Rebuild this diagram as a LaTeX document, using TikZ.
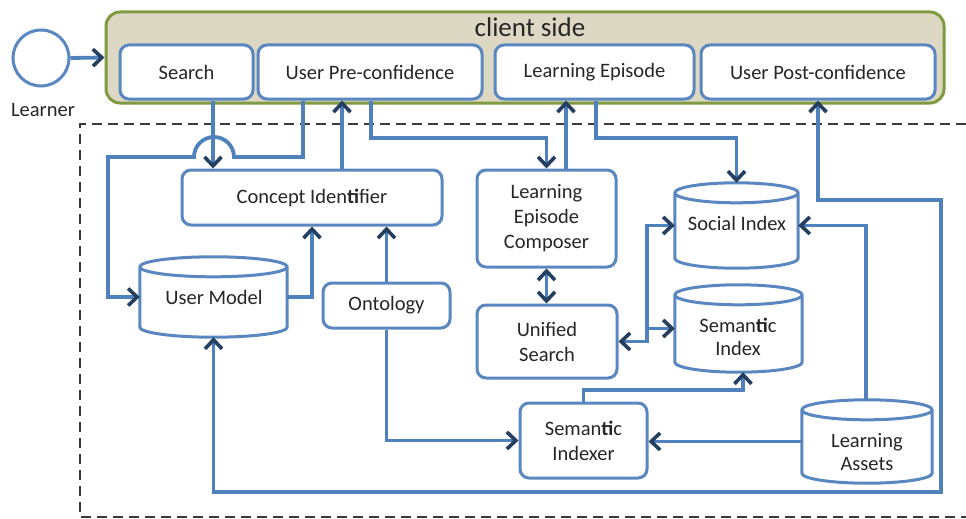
\documentclass[tikz,border=0pt]{standalone}
\usepackage{fontspec}
\setmainfont{Carlito}
\usetikzlibrary{arrows.meta,calc}
\definecolor{lineblue}{HTML}{4F81BD}
\definecolor{boxblue}{HTML}{5A87C0}
\definecolor{navy}{HTML}{243F60}
\definecolor{olivegreen}{HTML}{7F9A41}
\definecolor{tanfill}{HTML}{DDD8C4}
\definecolor{txtgray}{HTML}{262626}
\definecolor{dashgray}{HTML}{3A3A3A}
\newcommand\drawcyl[2]{%
  \path let \p1=(#1.north west), \p2=(#1.south east), \n1={(\x2-\x1)/2} in
    [draw=boxblue,line width=3pt,fill=white]
    (\x1,\y1-#2) -- (\x1,\y2+#2) arc[start angle=180,end angle=360,x radius=\n1,y radius=#2]
    -- (\x2,\y1-#2) arc[start angle=0,end angle=180,x radius=\n1,y radius=#2] -- cycle
    (\x1,\y1-#2) arc[start angle=180,end angle=360,x radius=\n1,y radius=#2];
}
\begin{document}
\begin{tikzpicture}[x=1pt,y=1pt,
  font=\fontsize{20.5}{25}\selectfont, text=txtgray,
  >={Straight Barb[length=9pt,width=17pt,line width=3.6pt,color=navy]},
  box/.style={draw=boxblue,line width=3pt,fill=white,rounded corners=9pt,align=center,inner sep=0pt},
  cylnode/.style={inner sep=0pt},
  cyltext/.style={align=center,inner sep=0pt,font=\fontsize{20.5}{23}\selectfont},
  conn/.style={draw=lineblue,line width=3.8pt},
]
\useasboundingbox (0,0) rectangle (966,-519);

% server boundary (dashed, open at right)
\draw[dashgray,line width=2pt,dash pattern=on 10pt off 6pt]
  (966,-124) -- (80,-124) -- (80,-517) -- (966,-517);

% client side
\node[draw=olivegreen,line width=3pt,fill=tanfill,rounded corners=14pt,
      minimum width=838pt,minimum height=91pt,inner sep=0pt] (client) at (525,-57.5) {};
\node[font=\fontsize{27}{30}\selectfont] (cstitle) at (530,-27) {client side};
\node[box,minimum width=133pt,minimum height=54pt] (search) at (186.5,-72) {Search};
\node[box,minimum width=224pt,minimum height=54pt] (upre) at (370,-72) {User Pre-confidence};
\node[box,minimum width=199pt,minimum height=54pt] (le) at (594.5,-72) {Learning Episode};
\node[box,minimum width=234pt,minimum height=54pt] (upost) at (818,-72) {User Post-confidence};

% learner
\node[circle,draw=boxblue,line width=3pt,fill=white,minimum size=56pt,inner sep=0pt] (learner) at (41,-58) {};
\node (lbl) at (43,-110) {Learner};

% server components
\node[box,minimum width=260pt,minimum height=55pt] (ci) at (312,-197.5) {Concept Iden\textbf{ti}fier};
\node[box,minimum width=127pt,minimum height=45pt] (onto) at (386.5,-305.5) {Ontology};
\node[box,minimum width=139pt,minimum height=97pt] (lec) at (546.5,-218.5) {Learning\\Episode\\Composer};
\node[box,minimum width=140pt,minimum height=73pt] (us) at (547,-341.5) {Unified\\Search};
\node[box,minimum width=127pt,minimum height=75pt] (sidx) at (583.5,-440.5) {Seman\textbf{ti}c\\Indexer};

\node[cylnode,minimum width=147pt,minimum height=80pt] (um) at (213.5,-297) {};
\drawcyl{um}{10pt}
\node[cyltext] (umt) at (214,-297) {User Model};
\node[cylnode,minimum width=123pt,minimum height=85pt] (soc) at (736.5,-225.5) {};
\drawcyl{soc}{10pt}
\node[cyltext] (soct) at (737,-223) {Social Index};
\node[cylnode,minimum width=127pt,minimum height=87pt] (semidx) at (738.5,-328.5) {};
\drawcyl{semidx}{10pt}
\node[cyltext] (semidxt) at (738,-337) {Seman\textbf{ti}c\\Index};
\node[cylnode,minimum width=130pt,minimum height=83pt] (la) at (867,-441.5) {};
\drawcyl{la}{10pt}
\node[cyltext] (lat) at (867,-452) {Learning\\Assets};

% helper coordinates
\coordinate (xS) at (213,0);
\coordinate (xP) at (303,0);
\coordinate (xL) at (108,0);
\coordinate (xU) at (312,0);
\coordinate (xC) at (342,0);
\coordinate (xQ) at (371,0);
\coordinate (xE) at (566,0);
\coordinate (xF) at (596,0);
\coordinate (xJ) at (647,0);
\coordinate (xA) at (866,0);
\coordinate (xM) at (743,0);
\coordinate (xR) at (941,0);
\coordinate (hop) at (214,-157);
\coordinate (yT) at (0,-138);
\coordinate (yM) at (0,-390);
\coordinate (yB) at (0,-492);
\coordinate (yLp) at (0,-200);

% connectors
\draw[conn,->] (learner.east) -- (client.west);
\draw[conn,->] (search.south -| xS) -- (ci.north -| xS);
\draw[conn,->] (upre.south -| xP) -- (xP |- hop) -- ($(hop)+(20,0)$)
  arc[start angle=0,end angle=180,radius=20] -- (xL |- hop) -- (um.west -| xL) -- (um.west);
\draw[conn,->] (um.east) -- (um.east -| xU) -- (ci.south -| xU);
\draw[conn,->] (ci.north -| xC) -- (upre.south -| xC);
\draw[conn,->] (onto.north) -- (ci.south -| onto.north);
\draw[conn,->] (onto.south) |- (sidx.west);
\draw[conn,->] (upre.south -| xQ) -- (xQ |- yT) -| (lec.north);
\draw[conn,->] (lec.north -| xE) -- (le.south -| xE);
\draw[conn,->] (le.south -| xF) -- (xF |- yT) -| (soc.north);
\draw[conn,<->] (lec.south) -- (lec.south |- us.north);
\draw[conn,<->] (us.east) -| (soc.west -| xJ) -- (soc.west);
\draw[conn,->] (semidx.west -| xJ) -- (semidx.west);
\draw[conn,->] (la.north -| xA) |- (soc.east);
\draw[conn,->] (la.west) -- (la.west -| sidx.east);
\draw[conn,->] (sidx.north) -- (sidx.north |- yM) -| (semidx.south -| xM);
\draw[conn,<->] (um.south) -- (um.south |- yB) -- (xR |- yB) -- (xR |- yLp) -| (upost.south);
\end{tikzpicture}
\end{document}
